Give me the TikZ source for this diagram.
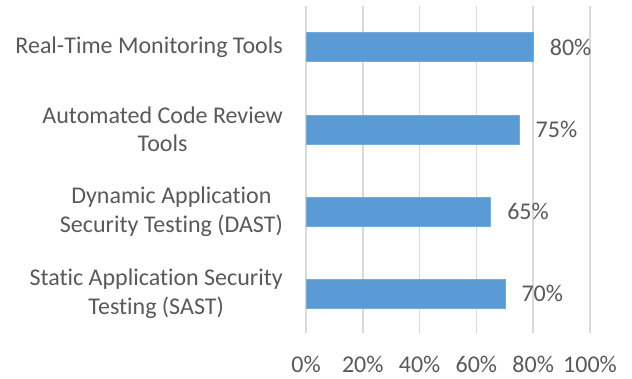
\documentclass[tikz,border=0pt]{standalone}
\usepackage{fontspec}
\setmainfont[Ligatures=NoCommon]{Carlito}
\definecolor{barblue}{HTML}{5B9BD5}
\definecolor{gridgray}{HTML}{D9D9D9}
\definecolor{txtgray}{HTML}{595959}
\begin{document}
\begin{tikzpicture}[x=1pt,y=-1pt,
  gridline/.style={draw=gridgray,line width=1.5pt},
  bar/.style={fill=barblue,draw=barblue!85!white,line width=0.6pt},
  cat/.style={anchor=east,align=center,text=txtgray,font=\fontsize{24}{28.3}\selectfont,inner sep=0pt},
  val/.style={anchor=west,text=txtgray,font=\fontsize{24}{28}\selectfont,inner sep=0pt},
  tick/.style={anchor=base,text=txtgray,font=\fontsize{24}{28}\selectfont,inner sep=0pt}]
\useasboundingbox (0,0) rectangle (632,378);
% gridlines and axis labels
\foreach \p [count=\i from 0] in {0,20,40,60,80,100}{
  \coordinate (gt\i) at ({306+2.84*\p},6);
  \coordinate (gb\i) at ({306+2.84*\p},333);
  \draw[gridline] (gt\i) -- (gb\i);
  \node[tick] (ax\i) at ({306+2.84*\p},372.5) {\p\%};
}
% bars
\foreach \v/\y/\n in {80/47/a,75/129.5/b,65/211.7/c,70/293.8/d}{
  \coordinate (s\n) at (306,\y-14.5);
  \coordinate (e\n) at ({306+2.84*\v},\y+14.5);
  \path[bar] (s\n) rectangle (e\n);
  \node[val] (v\n) at ({306+2.84*\v+16.5},\y) {\v\%};
}
% category labels
\node[cat] (ca) at (283,47) {Real-Time Monitoring Tools};
\node[cat] (cb) at (283,129.5) {Automated Code Review\\Tools};
\node[cat] (cc) at (283,211.7) {Dynamic Application\\Security Testing (DAST)};
\node[cat] (cd) at (283,293.8) {Static Application Security\\Testing (SAST)};
\end{tikzpicture}
\end{document}
